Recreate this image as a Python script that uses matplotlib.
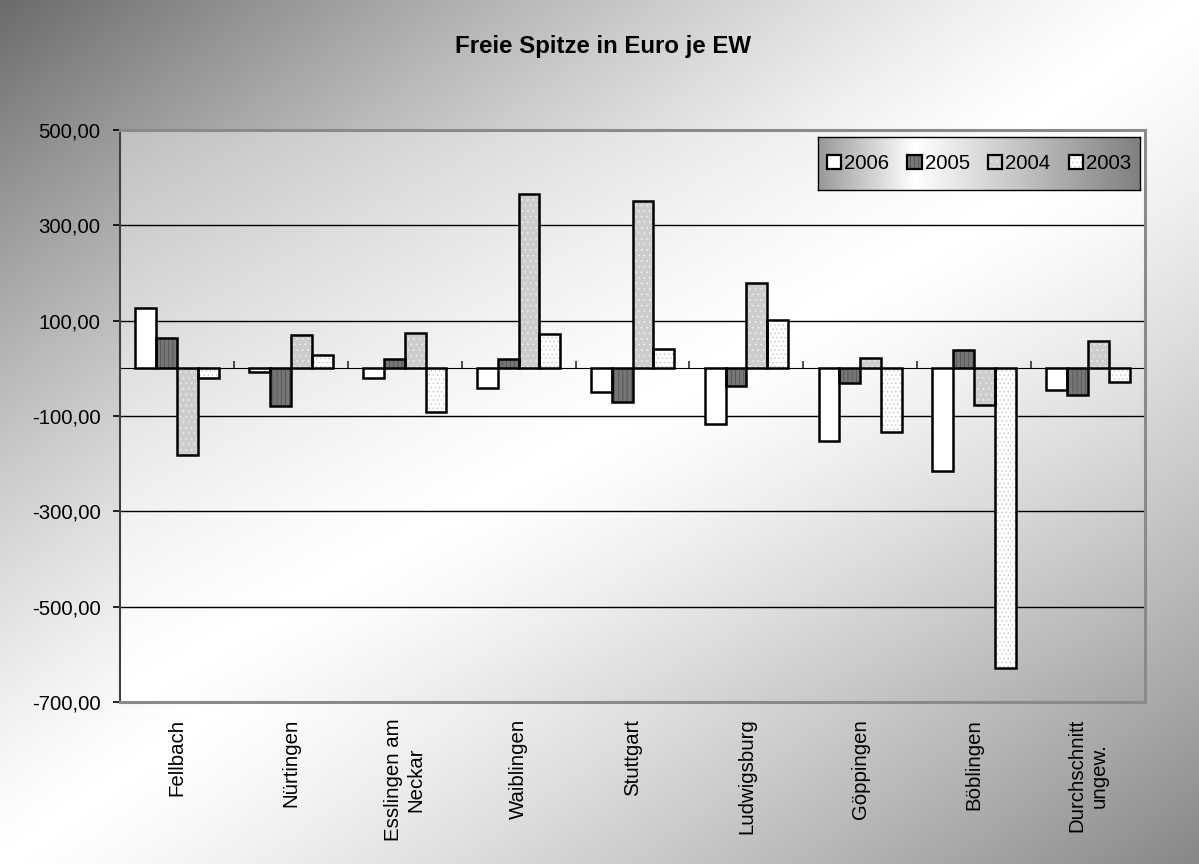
import numpy as np
import matplotlib
matplotlib.use("Agg")
import matplotlib.pyplot as plt
from matplotlib.patches import Patch
from matplotlib.legend_handler import HandlerTuple
from matplotlib.ticker import FuncFormatter

plt.rcParams['font.family'] = ['Liberation Sans', 'DejaVu Sans']
plt.rcParams['hatch.linewidth'] = 0.5

# ---- data -------------------------------------------------------------
title = "Freie Spitze in Euro je EW"
categories = ["Fellbach", "Nürtingen", "Esslingen am\nNeckar", "Waiblingen",
              "Stuttgart", "Ludwigsburg", "Göppingen", "Böblingen",
              "Durchschnitt\nungew."]
years = ["2006", "2005", "2004", "2003"]
v2006 = [127, -8, -21, -42, -50, -117, -152, -215, -46]
v2005 = [64, -78, 20, 19, -71, -38, -30, 39, -55]
v2004 = [-181, 70, 75, 365, 352, 179, 21, -76, 57]
v2003 = [-21, 29, -91, 72, 41, 101, -134, -629, -28]
y_ticks = [-700, -500, -300, -100, 100, 300, 500]

series = [v2006, v2005, v2004, v2003]
# fill colour, hatch, hatch colour per series
styles = [
    ("#ffffff", None, "#ffffff"),
    ("#767676", "||||", "#4e4e4e"),
    ("#cdcdcd", "...", "#eeeeee"),
    ("#ffffff", "....", "#c4c4c4"),
]

W, H = 1199, 864


def diag_gradient(w, h, a_tl, a_br, p=1.3):
    x = np.linspace(0, 1, w)[None, :]
    y = np.linspace(0, 1, h)[:, None]
    s = x + y - 1.0
    g = np.where(s < 0, 1 - a_tl * np.abs(s) ** p, 1 - a_br * np.abs(s) ** p)
    return np.clip(g, 0, 1)


def band_gradient(w, h, c, a_l, a_r):
    x = np.linspace(0, 1, w)[None, :] * np.ones((h, 1))
    g = np.where(x < c, 1 - a_l * (c - x) / c, 1 - a_r * (x - c) / (1 - c))
    return np.clip(g, 0, 1)


fig = plt.figure(figsize=(W / 100, H / 100), dpi=100)

# figure background
bg = fig.add_axes([0, 0, 1, 1], zorder=-10)
bg.imshow(diag_gradient(400, 300, 0.58, 0.47), cmap="gray", vmin=0, vmax=1,
          aspect="auto", extent=[0, 1, 0, 1], origin="upper", interpolation="bilinear")
bg.set_axis_off()

left, right, top, bottom = 120, 1145, 130, 702
ax = fig.add_axes([left / W, 1 - bottom / H, (right - left) / W, (bottom - top) / H])
ax.patch.set_alpha(0)
ax.imshow(diag_gradient(400, 300, 0.25, 0.35), cmap="gray", vmin=0, vmax=1,
          aspect="auto", extent=[0, 1, 0, 1], origin="upper", transform=ax.transAxes,
          zorder=0, interpolation="bilinear")

n = len(categories)
xs = np.arange(n)
bw = 0.183
handles = []
for i, (vals, (fc, hatch, hc)) in enumerate(zip(series, styles)):
    pos = xs + (i - 1.5) * bw
    ax.bar(pos, vals, bw, color=fc, hatch=hatch, edgecolor=hc, linewidth=0, zorder=3)
    ax.bar(pos, vals, bw, fill=False, edgecolor="black", linewidth=1.8, zorder=4)
    handles.append((Patch(facecolor=fc, hatch=hatch, edgecolor=hc, linewidth=0),
                    Patch(facecolor="none", edgecolor="black", linewidth=1.6)))

ymin, ymax = y_ticks[0], y_ticks[-1]
ax.set_ylim(ymin, ymax)
ax.set_xlim(-0.5, n - 0.5)
ax.set_yticks(y_ticks)
ax.yaxis.set_major_formatter(FuncFormatter(lambda v, _: f"{v:.2f}".replace(".", ",")))
ax.grid(axis="y", color="black", linewidth=1.0, zorder=1)
ax.set_axisbelow(True)

ax.set_xticks(xs)
ax.set_xticklabels(categories, rotation=90, ha="center", va="top",
                   multialignment="center")
ax.tick_params(axis="x", length=0, pad=12, labelsize=14.7)
ax.tick_params(axis="y", length=5, width=1.2, pad=9, labelsize=14.7, colors="black")

for side in ("top", "right", "bottom"):
    ax.spines[side].set_color("#8a8a8a")
    ax.spines[side].set_linewidth(2.2)
ax.spines["left"].set_color("#404040")
ax.spines["left"].set_linewidth(1.5)

# category axis drawn through zero, with boundary ticks
zero_frac = (0 - ymin) / (ymax - ymin)
sec = ax.secondary_xaxis(zero_frac)
sec.set_xticks(xs[:-1] + 0.5)
sec.set_xticklabels([])
sec.tick_params(length=5, width=1.2, direction="out", colors="#303030")
sec.spines["bottom"].set_color("black")
sec.spines["bottom"].set_linewidth(1.5)

fig.text(0.503, 1 - 47 / H, title, ha="center", va="center",
         fontsize=17.3, fontweight="bold")

# legend box with its own shading
lx0, lx1, ly0, ly1 = 818, 1140, 137, 190
lax = fig.add_axes([lx0 / W, 1 - ly1 / H, (lx1 - lx0) / W, (ly1 - ly0) / H], zorder=5)
lax.imshow(band_gradient(300, 10, 0.3, 0.4, 0.5), cmap="gray", vmin=0, vmax=1,
           aspect="auto", extent=[0, 1, 0, 1], origin="upper", interpolation="bilinear")
lax.set_xticks([])
lax.set_yticks([])
for s in lax.spines.values():
    s.set_color("black")
    s.set_linewidth(1.0)
lax.legend(handles, years, loc="center", ncol=4, frameon=False, fontsize=14.7,
           handler_map={tuple: HandlerTuple(ndivide=1, pad=0)},
           handlelength=0.7, handleheight=0.7, handletextpad=0.15,
           columnspacing=0.9, borderaxespad=0)

fig.savefig("out.png", dpi=100)
